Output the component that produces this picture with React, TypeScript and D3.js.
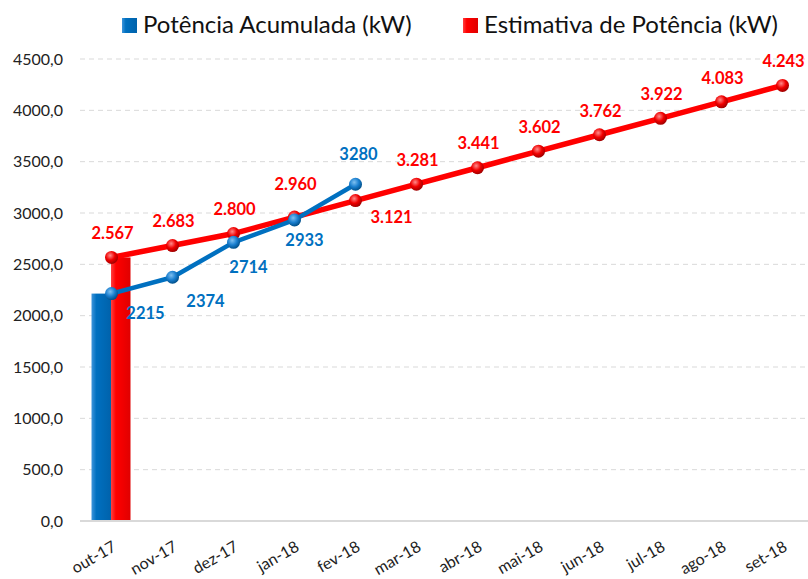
import React, { useEffect, useRef } from 'react';
import * as d3 from 'd3';

const months = ['out-17', 'nov-17', 'dez-17', 'jan-18', 'fev-18', 'mar-18', 'abr-18', 'mai-18', 'jun-18', 'jul-18', 'ago-18', 'set-18'];
const acumulada: (number | null)[] = [2215, 2374, 2714, 2933, 3280, null, null, null, null, null, null, null];
const estimativa = [2567, 2683, 2800, 2960, 3121, 3281, 3441, 3602, 3762, 3922, 4083, 4243];
// the bars only carry the first month
const barAcumulada: (number | null)[] = [2215, null, null, null, null, null, null, null, null, null, null, null];
const barEstimativa: (number | null)[] = [2567, null, null, null, null, null, null, null, null, null, null, null];
const yTicks = [0, 500, 1000, 1500, 2000, 2500, 3000, 3500, 4000, 4500];
const legendLabels = ['Potência Acumulada (kW)', 'Estimativa de Potência (kW)'];

const BLUE = '#0070C0';
const RED = '#FF0000';
const FONT = 'Lato, "Open Sans", sans-serif';

// label offsets (dx, dy of text centre from the point)
const blueLabelOffset: [number, number][] = [[34, 20], [33, 24], [15, 25], [10, 20], [3, -30]];
const redLabelOffset = (i: number): [number, number] => {
  if (i === 3) return [1, -33];
  if (i === 4) return [36, 17];
  return [1, -24];
};

const App: React.FC = () => {
  const svgRef = useRef<SVGSVGElement>(null);
  const width = 808;
  const height = 579;

  useEffect(() => {
    if (!svgRef.current) return;
    const svg = d3.select(svgRef.current);
    svg.selectAll('*').remove();

    const margin = { top: 59, right: -5, bottom: 58, left: 81 };
    const innerHeight = height - margin.top - margin.bottom;

    const x = d3.scaleBand().domain(months).range([margin.left, width - margin.right]).padding(0);
    const y = d3.scaleLinear().domain([0, 4500]).range([margin.top + innerHeight, margin.top]);
    const cx = (m: string) => (x(m) ?? 0) + x.bandwidth() / 2;

    const defs = svg.append('defs');
    const barGrad = (id: string, c0: string, c1: string, c2: string) => {
      const g = defs.append('linearGradient').attr('id', id).attr('x1', '0').attr('x2', '1').attr('y1', '0').attr('y2', '0');
      g.append('stop').attr('offset', '0%').attr('stop-color', c0);
      g.append('stop').attr('offset', '25%').attr('stop-color', c1);
      g.append('stop').attr('offset', '100%').attr('stop-color', c2);
    };
    barGrad('barBlue', '#3d95db', BLUE, '#0062ab');
    barGrad('barRed', '#ff4040', RED, '#e00000');
    const ballGrad = (id: string, c0: string, c1: string, c2: string) => {
      const g = defs.append('radialGradient').attr('id', id).attr('cx', '40%').attr('cy', '35%').attr('r', '65%');
      g.append('stop').attr('offset', '0%').attr('stop-color', c0);
      g.append('stop').attr('offset', '55%').attr('stop-color', c1);
      g.append('stop').attr('offset', '100%').attr('stop-color', c2);
    };
    ballGrad('ballBlue', '#7fc0f0', '#1a7fcf', '#004f8a');
    ballGrad('ballRed', '#ff8a8a', '#f00000', '#a00000');

    // Grid
    svg.append('g')
      .selectAll('line')
      .data(yTicks.filter(t => t > 0))
      .enter()
      .append('line')
      .attr('x1', margin.left - 1)
      .attr('x2', width)
      .attr('y1', d => y(d))
      .attr('y2', d => y(d))
      .attr('stroke', '#d9d9d9')
      .attr('stroke-width', 1)
      .attr('stroke-dasharray', '5,4');

    // Y labels
    svg.append('g')
      .selectAll('text')
      .data(yTicks)
      .enter()
      .append('text')
      .attr('x', 63)
      .attr('y', d => y(d))
      .attr('dy', '0.35em')
      .attr('text-anchor', 'end')
      .attr('font-family', FONT)
      .attr('font-size', 16)
      .attr('fill', '#222')
      .text(d => d3.format('.1f')(d).replace('.', ','));

    // Bars
    const bw = 19.5;
    const barData = months.map((m, i) => ({ m, a: barAcumulada[i], e: barEstimativa[i] }));
    const bars = svg.append('g');
    bars.selectAll('rect.a')
      .data(barData.filter(d => d.a != null))
      .enter()
      .append('rect')
      .attr('x', d => cx(d.m) - bw - 0.5)
      .attr('y', d => y(d.a as number))
      .attr('width', bw)
      .attr('height', d => y(0) - y(d.a as number))
      .attr('fill', 'url(#barBlue)');
    bars.selectAll('rect.e')
      .data(barData.filter(d => d.e != null))
      .enter()
      .append('rect')
      .attr('x', d => cx(d.m) - 0.5)
      .attr('y', d => y(d.e as number))
      .attr('width', bw)
      .attr('height', d => y(0) - y(d.e as number))
      .attr('fill', 'url(#barRed)');

    // Axis baseline
    svg.append('line')
      .attr('x1', margin.left - 1)
      .attr('x2', width)
      .attr('y1', y(0))
      .attr('y2', y(0))
      .attr('stroke', '#d9d9d9')
      .attr('stroke-width', 2);

    // X labels
    svg.append('g')
      .selectAll('text')
      .data(months)
      .enter()
      .append('text')
      .attr('transform', d => `translate(${cx(d) + 3},${y(0) + 24}) rotate(-30)`)
      .attr('text-anchor', 'end')
      .attr('dy', '0.35em')
      .attr('font-family', FONT)
      .attr('font-size', 16)
      .attr('fill', '#222')
      .text(d => d);

    // Lines
    const blueData = months.map((m, i) => ({ m, v: acumulada[i], i })).filter(d => d.v != null) as { m: string; v: number; i: number }[];
    const redData = months.map((m, i) => ({ m, v: estimativa[i], i }));
    const line = d3.line<{ m: string; v: number }>().x(d => cx(d.m)).y(d => y(d.v));

    svg.append('path')
      .datum(redData)
      .attr('d', line)
      .attr('fill', 'none')
      .attr('stroke', RED)
      .attr('stroke-width', 5.5)
      .attr('stroke-linejoin', 'round');
    svg.append('g')
      .selectAll('circle')
      .data(redData)
      .enter()
      .append('circle')
      .attr('cx', d => cx(d.m))
      .attr('cy', d => y(d.v))
      .attr('r', 6.5)
      .attr('fill', 'url(#ballRed)');

    svg.append('path')
      .datum(blueData)
      .attr('d', line)
      .attr('fill', 'none')
      .attr('stroke', BLUE)
      .attr('stroke-width', 4.5)
      .attr('stroke-linejoin', 'round');
    svg.append('g')
      .selectAll('circle')
      .data(blueData)
      .enter()
      .append('circle')
      .attr('cx', d => cx(d.m))
      .attr('cy', d => y(d.v))
      .attr('r', 6.5)
      .attr('fill', 'url(#ballBlue)');

    // Data labels
    svg.append('g')
      .selectAll('text')
      .data(redData)
      .enter()
      .append('text')
      .attr('x', d => cx(d.m) + redLabelOffset(d.i)[0])
      .attr('y', d => y(d.v) + redLabelOffset(d.i)[1])
      .attr('dy', '0.35em')
      .attr('text-anchor', 'middle')
      .attr('font-family', FONT)
      .attr('font-weight', 'bold')
      .attr('font-size', 16.5)
      .attr('fill', RED)
      .text(d => d3.format(',')(d.v).replace(',', '.'));

    svg.append('g')
      .selectAll('text')
      .data(blueData)
      .enter()
      .append('text')
      .attr('x', d => cx(d.m) + blueLabelOffset[d.i][0])
      .attr('y', d => y(d.v) + blueLabelOffset[d.i][1])
      .attr('dy', '0.35em')
      .attr('text-anchor', 'middle')
      .attr('font-family', FONT)
      .attr('font-weight', 'bold')
      .attr('font-size', 16.5)
      .attr('fill', BLUE)
      .text(d => String(d.v));

    // Legend
    const legend = svg.append('g');
    const legendX = [122, 463];
    const swatchFill = ['url(#barBlue)', 'url(#barRed)'];
    legendLabels.forEach((label, i) => {
      legend.append('rect')
        .attr('x', legendX[i])
        .attr('y', 18)
        .attr('width', 15)
        .attr('height', 15)
        .attr('fill', swatchFill[i]);
      legend.append('text')
        .attr('x', legendX[i] + 21)
        .attr('y', 33)
        .attr('font-family', FONT)
        .attr('font-size', 24)
        .attr('fill', '#111')
        .text(label);
    });
  }, []);

  return (
    <svg ref={svgRef} width={width} height={height} style={{ display: 'block', position: 'absolute', left: 0, top: 0, background: '#fff' }} />
  );
};

export default App;
